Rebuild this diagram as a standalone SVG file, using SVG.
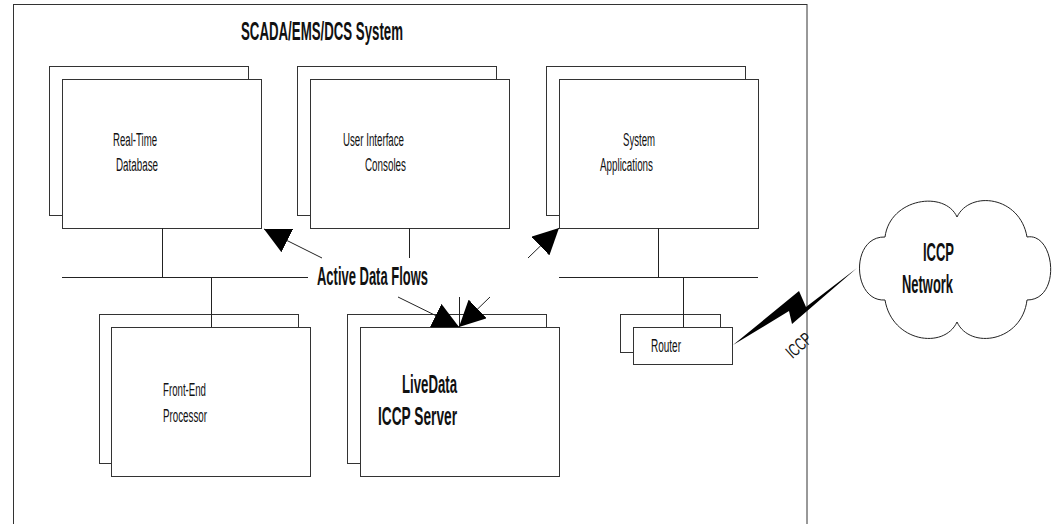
<svg xmlns="http://www.w3.org/2000/svg" width="1052" height="524" viewBox="0 0 1052 524">
<style>
.box{fill:#fff;stroke:#333;stroke-width:1}
.ln{fill:none;stroke:#222;stroke-width:1}
.lbl{font-family:"Liberation Sans",Arial,sans-serif;font-size:18px;fill:#111}
.bold{font-family:"Liberation Sans",Arial,sans-serif;font-weight:bold;font-size:25px;fill:#111}
</style>
<defs>
<marker id="ah" markerUnits="userSpaceOnUse" markerWidth="26" markerHeight="26" viewBox="0 0 26 26" refX="26" refY="13" orient="auto">
<path d="M0,0 L26,13 L0,26 z" fill="#000"/>
</marker>
</defs>
<rect width="1052" height="524" fill="#fff"/>
<g id="system-frame">
<rect x="13.5" y="4.5" width="793.5" height="540" fill="none" stroke="#333" stroke-width="1"/>
<text class="bold" x="241" y="40" font-size="21" textLength="162" lengthAdjust="spacingAndGlyphs">SCADA/EMS/DCS System</text>
</g>
<g id="node-rtdb">
<rect class="box" x="49.5" y="66.5" width="199" height="149"/>
<rect class="box" x="62.5" y="79.5" width="199" height="149"/>
<text class="lbl" x="113" y="146" textLength="44" lengthAdjust="spacingAndGlyphs">Real-Time</text>
<text class="lbl" x="116" y="171" textLength="42" lengthAdjust="spacingAndGlyphs">Database</text>
</g>
<g id="node-ui">
<rect class="box" x="297.5" y="66.5" width="199" height="149"/>
<rect class="box" x="310.5" y="79.5" width="199" height="149"/>
<text class="lbl" x="343" y="146" textLength="61" lengthAdjust="spacingAndGlyphs">User Interface</text>
<text class="lbl" x="365" y="171" textLength="41" lengthAdjust="spacingAndGlyphs">Consoles</text>
</g>
<g id="node-sysapp">
<rect class="box" x="546.5" y="66.5" width="199" height="149"/>
<rect class="box" x="559.5" y="79.5" width="199" height="149"/>
<text class="lbl" x="623" y="146" textLength="32" lengthAdjust="spacingAndGlyphs">System</text>
<text class="lbl" x="600" y="171" textLength="53" lengthAdjust="spacingAndGlyphs">Applications</text>
</g>
<g id="node-fep">
<rect class="box" x="99.5" y="314.5" width="199" height="149"/>
<rect class="box" x="111.5" y="327.5" width="199" height="149"/>
<text class="lbl" x="163" y="396" textLength="43" lengthAdjust="spacingAndGlyphs">Front-End</text>
<text class="lbl" x="163" y="422" textLength="44" lengthAdjust="spacingAndGlyphs">Processor</text>
</g>
<g id="node-livedata">
<rect class="box" x="347.5" y="314.5" width="199" height="149"/>
<rect class="box" x="360.5" y="327.5" width="199" height="149"/>
<text class="bold" x="402" y="393" textLength="55" lengthAdjust="spacingAndGlyphs">LiveData</text>
<text class="bold" x="378" y="425" textLength="79" lengthAdjust="spacingAndGlyphs">ICCP Server</text>
</g>
<g id="node-router">
<rect class="box" x="620.5" y="314.5" width="100" height="38"/>
<rect class="box" x="633.5" y="327.5" width="99" height="37"/>
<text class="lbl" x="651" y="352" textLength="30" lengthAdjust="spacingAndGlyphs">Router</text>
</g>
<g id="node-iccp-network">
<path d="M885,237 C890,198 945,190 957,217 C970,190 1020,196 1027,237 C1055,232 1062,300 1027,300 C1022,342 970,350 957,322 C944,350 892,342 885,300 C852,302 850,236 885,237 Z" fill="#fff" stroke="#222" stroke-width="1"/>
<text class="bold" x="923" y="261" textLength="31" lengthAdjust="spacingAndGlyphs">ICCP</text>
<text class="bold" x="902" y="293" textLength="51" lengthAdjust="spacingAndGlyphs">Network</text>
</g>
<g id="connectors">
<line class="ln" x1="62" y1="277.5" x2="308" y2="277.5"/>
<line class="ln" x1="559" y1="277.5" x2="758" y2="277.5"/>
<line class="ln" x1="162.5" y1="228" x2="162.5" y2="277"/>
<line class="ln" x1="409.5" y1="228" x2="409.5" y2="258"/>
<line class="ln" x1="658.5" y1="228" x2="658.5" y2="277"/>
<line class="ln" x1="211.5" y1="277" x2="211.5" y2="327"/>
<line class="ln" x1="683.5" y1="277" x2="683.5" y2="327"/>
<line class="ln" x1="459.5" y1="297" x2="459.5" y2="327"/>
<line class="ln" x1="322" y1="258" x2="264" y2="229" marker-end="url(#ah)"/>
<line class="ln" x1="528" y1="258" x2="559" y2="228" marker-end="url(#ah)"/>
<line class="ln" x1="398" y1="297" x2="459" y2="327" marker-end="url(#ah)"/>
<line class="ln" x1="490" y1="297" x2="459" y2="327" marker-end="url(#ah)"/>
<polygon points="733,345 799,291 806,307 857,268 792,324 789,311" fill="#000"/>
<text class="bold" x="317" y="285" textLength="111" lengthAdjust="spacingAndGlyphs">Active Data Flows</text>
<text class="lbl" x="0" y="0" font-size="16" text-anchor="middle" textLength="28" lengthAdjust="spacingAndGlyphs" transform="translate(803,350) rotate(-42)">ICCP</text>
</g>
</svg>
